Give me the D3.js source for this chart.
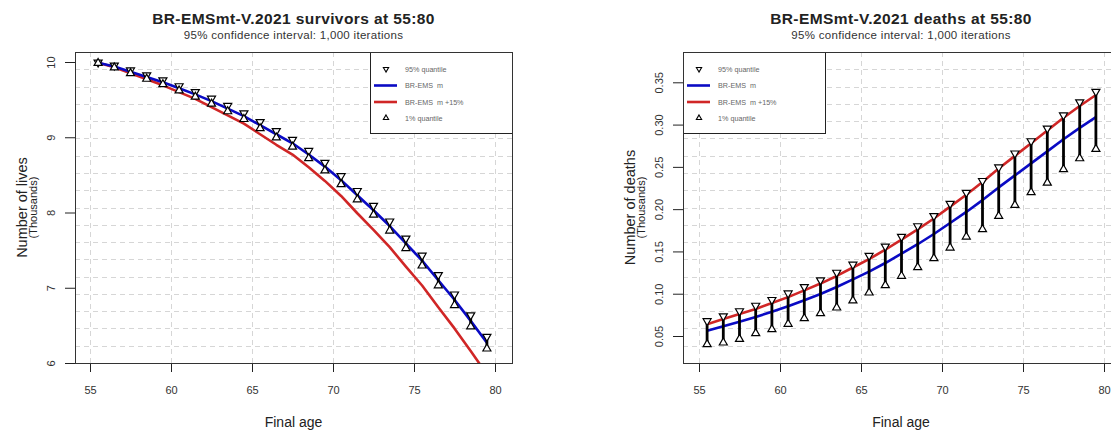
<!DOCTYPE html>
<html>
<head>
<meta charset="utf-8">
<script src="https://cdn.jsdelivr.net/npm/d3@7"></script>
<style>
  html, body { margin: 0; padding: 0; background: #ffffff; }
  svg { display: block; font-family: "Liberation Sans", Arial, Helvetica, sans-serif; }
</style>
</head>
<body>
<svg id="chart" width="1111" height="430"></svg>
<script>
// ---- data (thousands of lives / deaths by final age) ----
const ages = [55.5, 56.5, 57.5, 58.5, 59.5, 60.5, 61.5, 62.5, 63.5, 64.5, 65.5, 66.5, 67.5,
              68.5, 69.5, 70.5, 71.5, 72.5, 73.5, 74.5, 75.5, 76.5, 77.5, 78.5, 79.5];

const survivorsMean   = [9.99, 9.94, 9.87, 9.80, 9.73, 9.65, 9.57, 9.48, 9.38, 9.28, 9.16, 9.04, 8.92,
                         8.77, 8.61, 8.43, 8.23, 8.03, 7.82, 7.59, 7.36, 7.10, 6.84, 6.56, 6.27];
const survivorsPlus15 = [9.99, 9.93, 9.85, 9.77, 9.69, 9.60, 9.51, 9.40, 9.29, 9.18, 9.04, 8.90, 8.77,
                         8.60, 8.42, 8.22, 7.99, 7.77, 7.54, 7.28, 7.03, 6.74, 6.46, 6.16, 5.85];
const survivorsQ95    = [9.995, 9.955, 9.89, 9.825, 9.758, 9.68, 9.603, 9.515, 9.418, 9.32, 9.203, 9.085, 8.968,
                         8.82, 8.663, 8.485, 8.288, 8.09, 7.883, 7.655, 7.428, 7.17, 6.913, 6.635, 6.35];
const survivorsQ01    = [9.985, 9.925, 9.85, 9.775, 9.703, 9.62, 9.538, 9.445, 9.343, 9.24, 9.118, 8.995, 8.873,
                         8.72, 8.558, 8.375, 8.173, 7.97, 7.758, 7.525, 7.293, 7.03, 6.768, 6.485, 6.19];

const deathsMean   = [0.0561, 0.0615, 0.0669, 0.0724, 0.0787, 0.0851, 0.0923, 0.0996, 0.1079, 0.1170, 0.1262, 0.1363, 0.1474,
                      0.1585, 0.1706, 0.1836, 0.1967, 0.2107, 0.2257, 0.2399, 0.2541, 0.2683, 0.2827, 0.2961, 0.3088];
const deathsPlus15 = [0.064, 0.070, 0.076, 0.082, 0.089, 0.096, 0.104, 0.112, 0.121, 0.131, 0.141, 0.152, 0.164,
                      0.176, 0.189, 0.203, 0.217, 0.232, 0.248, 0.263, 0.278, 0.293, 0.308, 0.322, 0.335];
const deathsQ95    = [0.0677, 0.0735, 0.0795, 0.0860, 0.0928, 0.1005, 0.1080, 0.1160, 0.1250, 0.1345, 0.1450, 0.1560, 0.1675,
                      0.1800, 0.1920, 0.2065, 0.2195, 0.2335, 0.2495, 0.2660, 0.2805, 0.2955, 0.3110, 0.3265, 0.3390];
const deathsQ01    = [0.0402, 0.0421, 0.0464, 0.0532, 0.0579, 0.0642, 0.0709, 0.0768, 0.0835, 0.0918, 0.1012, 0.1100, 0.1210,
                      0.1312, 0.1418, 0.1544, 0.1674, 0.1761, 0.1918, 0.2048, 0.2199, 0.2312, 0.2470, 0.2600, 0.2710];

const ageTicks       = [55, 60, 65, 70, 75, 80];
const survivorsTicks = [6, 7, 8, 9, 10];
const deathsTicks    = [0.05, 0.10, 0.15, 0.20, 0.25, 0.30, 0.35];

const legendLabels = ["95% quantile", "BR-EMS\u00A0 m", "BR-EMS\u00A0 m +15%", "1% quantile"];
const subtitle = "95% confidence interval: 1,000 iterations";
const xLabel = "Final age";

// ---- styling ----
const BLUE = "#0a0ac4";
const RED = "#d02626";
const GRID = "#d6d6d6";
const INK = "#222222";

const panels = [
  {
    id: "surv",
    title: "BR-EMSmt-V.2021 survivors at 55:80",
    yLabel: "Number of lives",
    mean: survivorsMean, plus: survivorsPlus15, q95: survivorsQ95, q01: survivorsQ01,
    yTicks: survivorsTicks, fmt: d3.format("d"),
    yDomain: [6, 10], yRange: [363, 62],
    box: { left: 75, right: 512, top: 52, bottom: 363 },
    xRange: [90, 495],
    legendAtRight: true
  },
  {
    id: "death",
    title: "BR-EMSmt-V.2021 deaths at 55:80",
    yLabel: "Number of deaths",
    mean: deathsMean, plus: deathsPlus15, q95: deathsQ95, q01: deathsQ01,
    yTicks: deathsTicks, fmt: d3.format(".2f"),
    yDomain: [0.05, 0.35], yRange: [336, 82.3],
    box: { left: 683, right: 1119, top: 52, bottom: 363 },
    xRange: [699, 1104],
    legendAtRight: false
  }
];

const svg = d3.select("#chart");
const defs = svg.append("defs");
const triUp = d3.symbol().type(d3.symbolTriangle);

function drawPanel(p) {
  const b = p.box;
  const x = d3.scaleLinear().domain([55, 80]).range(p.xRange);
  const y = d3.scaleLinear().domain(p.yDomain).range(p.yRange);
  const cx = (b.left + b.right) / 2;
  const g = svg.append("g");

  defs.append("clipPath").attr("id", p.id + "-clip")
    .append("rect")
    .attr("x", b.left).attr("y", b.top)
    .attr("width", b.right - b.left).attr("height", b.bottom - b.top);

  // dashed grid: verticals at the age ticks, horizontals evenly across the plot region
  const grid = g.append("g")
    .attr("stroke", GRID).attr("stroke-width", 1).attr("stroke-dasharray", "5,4")
    .attr("fill", "none");
  grid.selectAll("line.v").data(ageTicks).join("line")
    .attr("class", "v")
    .attr("x1", d => Math.round(x(d)) + 0.5).attr("x2", d => Math.round(x(d)) + 0.5)
    .attr("y1", b.top).attr("y2", b.bottom);
  const nH = 18;
  grid.selectAll("line.h").data(d3.range(1, nH)).join("line")
    .attr("class", "h")
    .attr("x1", b.left).attr("x2", b.right)
    .attr("y1", k => Math.round(b.top + k * (b.bottom - b.top) / nH) + 0.5)
    .attr("y2", k => Math.round(b.top + k * (b.bottom - b.top) / nH) + 0.5);

  const plot = g.append("g").attr("clip-path", `url(#${p.id}-clip)`);
  const rows = ages.map((a, i) => ({ a, m: p.mean[i], r: p.plus[i], hi: p.q95[i], lo: p.q01[i] }));

  const line = key => d3.line().x(d => x(d.a)).y(d => y(d[key]));
  plot.append("path").datum(rows)
    .attr("d", line("r")).attr("fill", "none").attr("stroke", RED)
    .attr("stroke-width", 2.6).attr("stroke-linejoin", "round");
  plot.append("path").datum(rows)
    .attr("d", line("m")).attr("fill", "none").attr("stroke", BLUE)
    .attr("stroke-width", 2.6).attr("stroke-linejoin", "round");

  // quantile bars with 95% (down triangle) and 1% (up triangle) markers
  plot.selectAll("line.bar").data(rows).join("line")
    .attr("class", "bar")
    .attr("x1", d => x(d.a)).attr("x2", d => x(d.a))
    .attr("y1", d => y(d.hi)).attr("y2", d => y(d.lo))
    .attr("stroke", "#000").attr("stroke-width", 2.8);
  plot.selectAll("path.q95").data(rows).join("path")
    .attr("class", "q95")
    .attr("d", triUp.size(28))
    .attr("transform", d => `translate(${x(d.a)},${y(d.hi)}) rotate(180)`)
    .attr("fill", "#fff").attr("stroke", "#000").attr("stroke-width", 1.2);
  plot.selectAll("path.q01").data(rows).join("path")
    .attr("class", "q01")
    .attr("d", triUp.size(28))
    .attr("transform", d => `translate(${x(d.a)},${y(d.lo)})`)
    .attr("fill", "#fff").attr("stroke", "#000").attr("stroke-width", 1.2);

  // x axis
  const xa = g.append("g")
    .attr("transform", `translate(0,${b.bottom})`)
    .call(d3.axisBottom(x).tickValues(ageTicks).tickSize(9).tickPadding(14).tickFormat(d3.format("d")));
  xa.select(".domain").remove();
  xa.selectAll(".tick line").attr("stroke", INK);
  xa.selectAll(".tick text")
    .attr("fill", "#333").attr("font-size", 11)
    .attr("font-family", "Liberation Sans, Arial, sans-serif");

  // y axis with labels turned parallel to the axis
  const ya = g.append("g")
    .attr("transform", `translate(${b.left},0)`)
    .call(d3.axisLeft(y).tickValues(p.yTicks).tickSize(10).tickFormat(p.fmt));
  ya.select(".domain").remove();
  ya.selectAll(".tick line").attr("stroke", INK);
  ya.selectAll(".tick text")
    .attr("x", 0).attr("y", -20).attr("dy", null)
    .attr("transform", "rotate(-90)")
    .attr("text-anchor", "middle")
    .attr("fill", "#333").attr("font-size", 11)
    .attr("font-family", "Liberation Sans, Arial, sans-serif");

  // legend
  const lw = 142, lh = 81;
  const lx = p.legendAtRight ? b.right - lw : b.left;
  const lg = g.append("g").attr("transform", `translate(${lx},${b.top})`);
  lg.append("rect")
    .attr("x", 0.5).attr("y", 0.5).attr("width", lw).attr("height", lh)
    .attr("fill", "#fff").attr("stroke", INK).attr("stroke-width", 1);
  const rowY = [17, 33.5, 50, 66];
  lg.append("path").attr("d", triUp.size(12))
    .attr("transform", `translate(16,${rowY[0]}) rotate(180)`)
    .attr("fill", "#fff").attr("stroke", "#000").attr("stroke-width", 1.1);
  lg.append("line").attr("x1", 4).attr("x2", 27).attr("y1", rowY[1]).attr("y2", rowY[1])
    .attr("stroke", BLUE).attr("stroke-width", 2.6);
  lg.append("line").attr("x1", 4).attr("x2", 27).attr("y1", rowY[2]).attr("y2", rowY[2])
    .attr("stroke", RED).attr("stroke-width", 2.6);
  lg.append("path").attr("d", triUp.size(12))
    .attr("transform", `translate(16,${rowY[3]})`)
    .attr("fill", "#fff").attr("stroke", "#000").attr("stroke-width", 1.1);
  lg.selectAll("text").data(legendLabels).join("text")
    .attr("x", 35).attr("y", (d, i) => rowY[i] + 2.5)
    .attr("font-size", 7.2).attr("fill", "#666")
    .text(d => d);

  // frame
  g.append("rect")
    .attr("x", b.left + 0.5).attr("y", b.top + 0.5)
    .attr("width", b.right - b.left).attr("height", b.bottom - b.top)
    .attr("fill", "none").attr("stroke", "#333").attr("stroke-width", 1);

  // titles and axis labels
  g.append("text").attr("x", cx).attr("y", 24)
    .attr("text-anchor", "middle").attr("font-size", 15.5).attr("font-weight", "bold")
    .attr("letter-spacing", 0.4).attr("fill", INK).text(p.title);
  g.append("text").attr("x", cx).attr("y", 38.5)
    .attr("text-anchor", "middle").attr("font-size", 11.5).attr("letter-spacing", 0.3)
    .attr("fill", "#333").text(subtitle);
  g.append("text").attr("x", cx).attr("y", 427)
    .attr("text-anchor", "middle").attr("font-size", 14).attr("fill", INK).text(xLabel);
  const ymid = (b.top + b.bottom) / 2;
  g.append("text")
    .attr("transform", `translate(${b.left - 48},${ymid}) rotate(-90)`)
    .attr("text-anchor", "middle").attr("font-size", 14.5).attr("fill", INK).text(p.yLabel);
  g.append("text")
    .attr("transform", `translate(${b.left - 38},${ymid}) rotate(-90)`)
    .attr("text-anchor", "middle").attr("font-size", 11).attr("fill", INK).text("(Thousands)");
}

panels.forEach(drawPanel);
</script>
</body>
</html>
